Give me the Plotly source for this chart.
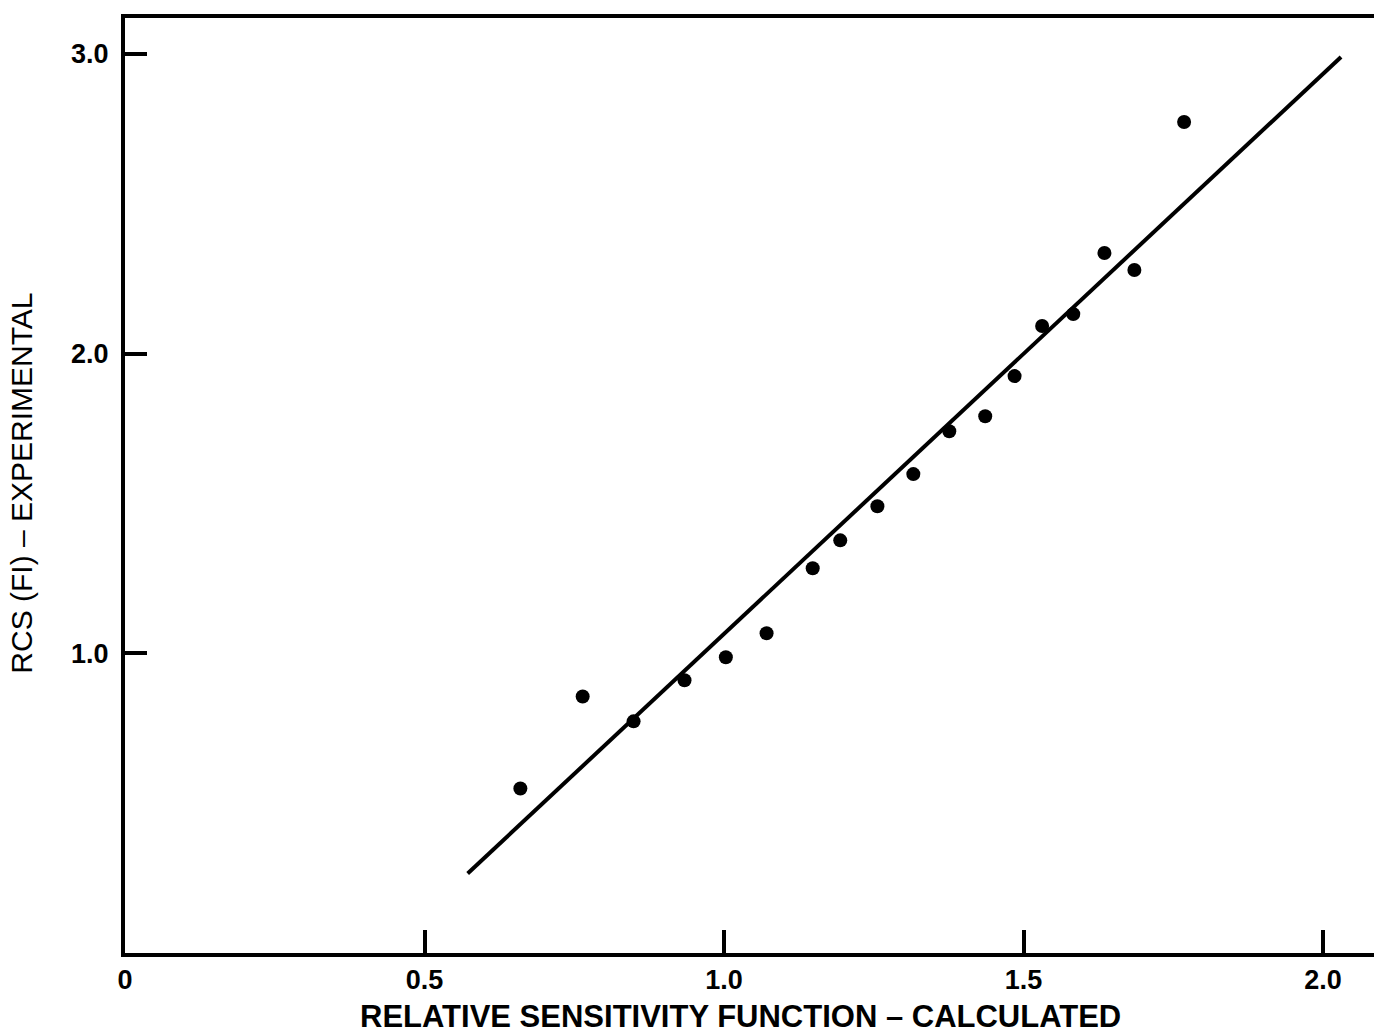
import plotly.graph_objects as go

# Measured points: relative sensitivity (calculated) vs RCS (experimental)
calc_rsf = [0.660, 0.764, 0.849, 0.934, 1.003, 1.071, 1.148, 1.194, 1.256,
            1.316, 1.376, 1.436, 1.485, 1.531, 1.583, 1.635, 1.685, 1.768]
rcs_exp = [0.549, 0.856, 0.773, 0.910, 0.987, 1.067, 1.284, 1.377, 1.491,
           1.598, 1.741, 1.791, 1.925, 2.092, 2.132, 2.336, 2.279, 2.773]

# Fitted straight line, drawn between its two end points
fit_x = [0.572, 2.030]
fit_y = [0.265, 2.990]

x_ticks = [0, 0.5, 1.0, 1.5, 2.0]
x_tick_text = ["0", "0.5", "1.0", "1.5", "2.0"]
y_ticks = [1.0, 2.0, 3.0]
y_tick_text = ["1.0", "2.0", "3.0"]

FONT = "Liberation Sans, Arial, Helvetica, sans-serif"

fig = go.Figure()
fig.add_trace(go.Scatter(
    x=fit_x, y=fit_y, mode="lines",
    line=dict(color="black", width=4),
    hoverinfo="skip", showlegend=False,
))
fig.add_trace(go.Scatter(
    x=calc_rsf, y=rcs_exp, mode="markers",
    marker=dict(color="black", size=14, line=dict(width=0)),
    showlegend=False,
))

W, H = 1374, 1036
left, right, top, bottom = 125, 1374, 18, 953

fig.update_layout(
    width=W, height=H,
    margin=dict(l=left, r=W - right, t=top, b=H - bottom, autoexpand=False),
    paper_bgcolor="white", plot_bgcolor="white",
    font=dict(family=FONT, color="black"),
    xaxis=dict(
        range=[0, 2.085], showgrid=False, zeroline=False,
        showline=True, linecolor="black", linewidth=4, mirror=True,
        ticks="inside", ticklen=23, tickwidth=4, tickcolor="black",
        tickvals=x_ticks, ticktext=x_tick_text,
        tickfont=dict(family=FONT, size=27, color="black", weight="bold"),
    ),
    yaxis=dict(
        range=[0, 3.12], showgrid=False, zeroline=False,
        showline=True, linecolor="black", linewidth=4, mirror=False,
        ticks="inside", ticklen=22, tickwidth=4, tickcolor="black",
        tickvals=y_ticks, ticktext=y_tick_text, ticklabelstandoff=7,
        tickfont=dict(family=FONT, size=27, color="black", weight="bold"),
    ),
    annotations=[
        dict(text="RELATIVE SENSITIVITY FUNCTION – CALCULATED",
             xref="paper", yref="paper", x=0.4924, y=-0.0684,
             xanchor="center", yanchor="middle", showarrow=False,
             font=dict(family=FONT, size=31, color="black", weight="bold")),
        dict(text="RCS (FI) – EXPERIMENTAL",
             xref="paper", yref="paper", x=-0.0825, y=0.503,
             xanchor="center", yanchor="middle", showarrow=False, textangle=-90,
             font=dict(family=FONT, size=30, color="black")),
    ],
)

fig.write_html("out.html")
